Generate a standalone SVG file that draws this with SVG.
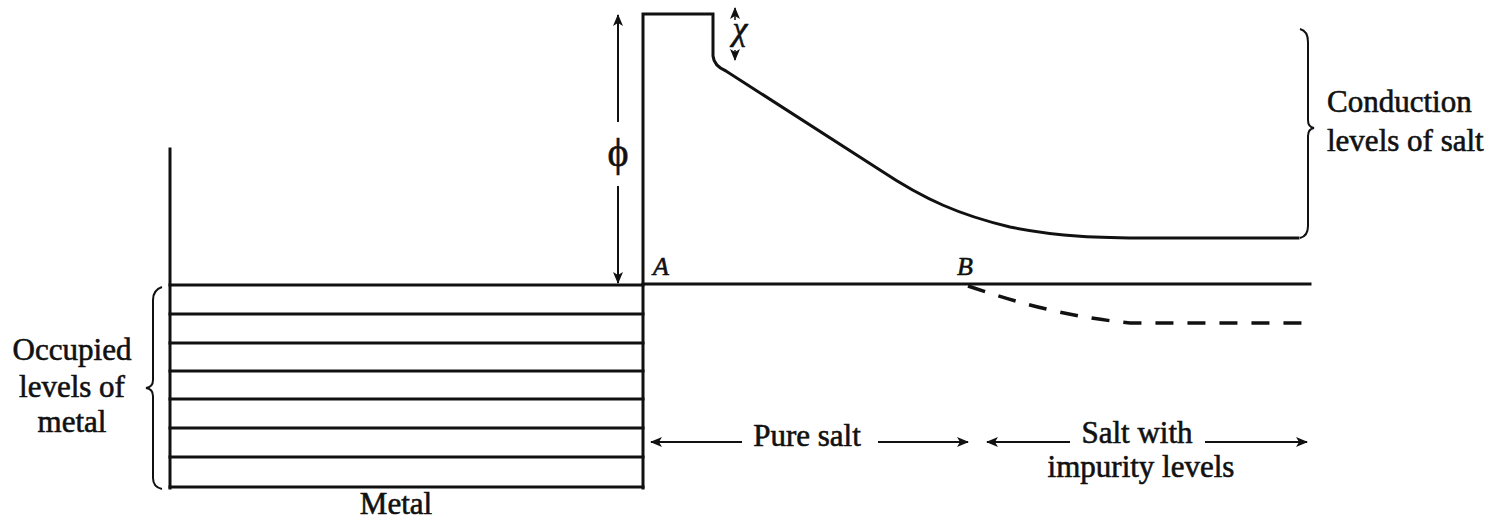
<svg xmlns="http://www.w3.org/2000/svg" width="1489" height="523" viewBox="0 0 1489 523">
<style>
.ln{stroke:#111;stroke-width:3;fill:none;stroke-linecap:square}
.th{stroke:#111;stroke-width:2;fill:none}
.tx{font-family:"Liberation Serif","Times New Roman",serif;font-size:31px;fill:#111;stroke:#111;stroke-width:0.6}
.it{font-family:"Liberation Serif","Times New Roman",serif;font-style:italic;fill:#111;stroke:#111;stroke-width:0.6}
</style>
<defs>
<marker id="ah" viewBox="0 0 12 10" refX="11" refY="5" markerWidth="12" markerHeight="10" markerUnits="userSpaceOnUse" orient="auto">
<path d="M0,0 L12,5 L0,10 L3,5 Z" fill="#111"/>
</marker>
</defs>
<rect width="1489" height="523" fill="#fff"/>

<g id="metal">
<line class="ln" x1="170" y1="149" x2="170" y2="488"/>
<line class="ln" x1="170" y1="285" x2="643" y2="285"/>
<line class="ln" x1="170" y1="314" x2="643" y2="314"/>
<line class="ln" x1="170" y1="343" x2="643" y2="343"/>
<line class="ln" x1="170" y1="371" x2="643" y2="371"/>
<line class="ln" x1="170" y1="399" x2="643" y2="399"/>
<line class="ln" x1="170" y1="428" x2="643" y2="428"/>
<line class="ln" x1="170" y1="457" x2="643" y2="457"/>
<line class="ln" x1="170" y1="487" x2="643" y2="487"/>
<path class="th" d="M162,287 Q153,290 153,300 L153,380 Q153,387 146,388 Q153,389 153,396 L153,478 Q153,487 162,489"/>
<text class="tx" x="396" y="514" text-anchor="middle">Metal</text>
<text class="tx" x="72" y="360" text-anchor="middle">Occupied</text>
<text class="tx" x="72" y="397" text-anchor="middle">levels of</text>
<text class="tx" x="72" y="432" text-anchor="middle">metal</text>
</g>

<g id="salt">
<path class="ln" d="M643,488 L643,14 L713,14 L713,56 Q714,66 726,71 L880,170 C925,200 960,215 1010,227 C1060,237 1100,238 1150,238 L1298,238"/>
<line class="ln" x1="643" y1="284" x2="1310" y2="284"/>
<path d="M968,286 C1010,300 1060,316 1130,323 L1305,323" stroke="#111" stroke-width="3.5" fill="none" stroke-dasharray="18,14"/>
<path class="th" d="M1300,29 Q1308,31 1308,42 L1308,120 Q1308,127 1314,128 Q1308,129 1308,136 L1308,226 Q1308,236 1300,238"/>
<text class="tx" x="1327" y="112">Conduction</text>
<text class="tx" x="1327" y="151">levels of salt</text>
<text class="it" x="653" y="275" font-size="26">A</text>
<text class="it" x="957" y="275" font-size="26">B</text>
</g>

<g id="connectors">
<line class="th" x1="618" y1="122" x2="618" y2="15" marker-end="url(#ah)"/>
<line class="th" x1="618" y1="186" x2="618" y2="283" marker-end="url(#ah)"/>
<line stroke="#111" stroke-width="1.5" x1="735" y1="20" x2="735" y2="8" marker-end="url(#ah)"/>
<line stroke="#111" stroke-width="1.5" x1="735" y1="50" x2="735" y2="60" marker-end="url(#ah)"/>
<line class="th" x1="742" y1="442" x2="651" y2="442" marker-end="url(#ah)"/>
<line class="th" x1="878" y1="442" x2="968" y2="442" marker-end="url(#ah)"/>
<line class="th" x1="1070" y1="442" x2="987" y2="442" marker-end="url(#ah)"/>
<line class="th" x1="1205" y1="442" x2="1307" y2="442" marker-end="url(#ah)"/>
</g>

<g id="labels">
<text class="tx" x="618" y="166" text-anchor="middle" style="font-size:40px">ϕ</text>
<text class="it" x="740" y="40" font-size="34" text-anchor="middle">χ</text>
<text class="tx" x="807" y="446" text-anchor="middle">Pure salt</text>
<text class="tx" x="1137" y="443" text-anchor="middle">Salt with</text>
<text class="tx" x="1141" y="477" text-anchor="middle">impurity levels</text>
</g>
</svg>
